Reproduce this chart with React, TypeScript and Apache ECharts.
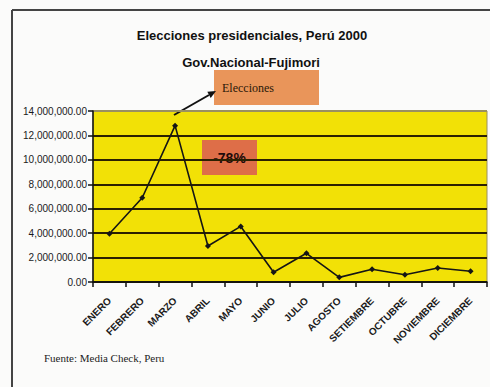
import React, { useEffect, useRef } from "react";
import * as echarts from "echarts";

const months = ["ENERO", "FEBRERO", "MARZO", "ABRIL", "MAYO", "JUNIO", "JULIO", "AGOSTO", "SETIEMBRE", "OCTUBRE", "NOVIEMBRE", "DICIEMBRE"];
const values = [3950000, 6900000, 12800000, 2950000, 4550000, 800000, 2350000, 380000, 1050000, 600000, 1150000, 880000];
const titleText = "Elecciones presidenciales, Perú 2000";
const subtitleText = "Gov.Nacional-Fujimori";
const noteBoxText = "Elecciones";
const changeText = "-78%";
const sourceText = "Fuente: Media Check, Peru";

function fmt(v: number): string {
  if (v === 0) return "0.00";
  return v.toLocaleString("en-US") + ".00";
}

export default function App() {
  const ref = useRef<HTMLDivElement>(null);
  useEffect(() => {
    if (!ref.current) return;
    const chart = echarts.init(ref.current, null, { renderer: "svg" });
    const gridColors = ["#2b2000", "#2b2000", "#2b2000", "#2b2000", "#2b2000", "#2b2000", "#2b2000", "#9a9060"];
    chart.setOption({
      animation: false,
      backgroundColor: "#fbfbfa",
      textStyle: { fontFamily: "Liberation Sans, Arial, sans-serif" },
      grid: {
        left: 93, right: 3, top: 111, bottom: 105, show: true,
        backgroundColor: "#f2e106", borderColor: "#9a9060", borderWidth: 1,
      },
      xAxis: {
        type: "category", data: months, boundaryGap: true,
        axisLine: { lineStyle: { color: "#111", width: 1.5 } },
        axisTick: { show: true, length: 5, lineStyle: { color: "#111", width: 1.5 } },
        axisLabel: { rotate: 45, fontSize: 10, color: "#1a1a1a", margin: 17, fontWeight: "bold" },
        splitLine: { show: false },
      },
      yAxis: {
        type: "value", min: 0, max: 14000000, interval: 2000000,
        axisLine: { show: true, lineStyle: { color: "#111", width: 1.5 } },
        axisTick: { show: true, length: 5, lineStyle: { color: "#111", width: 1.5 } },
        axisLabel: { formatter: (v: number) => fmt(v), fontSize: 10, color: "#1a1a1a", margin: 6 },
        splitLine: { show: true, lineStyle: { color: gridColors, width: 2 } },
      },
      series: [{
        type: "line", data: values,
        symbol: "diamond", symbolSize: 6,
        lineStyle: { color: "#151515", width: 1.6 },
        itemStyle: { color: "#151515" },
      }],
      graphic: [
        { type: "line", shape: { x1: 12, y1: 10, x2: 490, y2: 10 }, style: { stroke: "#444", lineWidth: 2 } },
        { type: "line", shape: { x1: 12, y1: 10, x2: 12, y2: 387 }, style: { stroke: "#444", lineWidth: 2 } },
        { type: "text", x: 252, y: 35, style: { text: titleText, fill: "#111", font: "bold 13px 'Liberation Sans', Arial, sans-serif", textAlign: "center", textVerticalAlign: "middle" } },
        { type: "text", x: 251, y: 62, style: { text: subtitleText, fill: "#111", font: "bold 13px 'Liberation Sans', Arial, sans-serif", textAlign: "center", textVerticalAlign: "middle" } },
        { type: "rect", shape: { x: 214, y: 70, width: 105, height: 35 }, style: { fill: "#e9955a" } },
        { type: "text", x: 222, y: 88, style: { text: noteBoxText, fill: "#2a1808", font: "12px 'Liberation Serif', 'Times New Roman', serif", textVerticalAlign: "middle" } },
        { type: "line", shape: { x1: 174, y1: 115, x2: 209, y2: 95 }, style: { stroke: "#111", lineWidth: 2 } },
        { type: "polygon", shape: { points: [[216, 91], [210.7, 98], [207.3, 91.8]] }, style: { fill: "#111" } },
        { type: "rect", shape: { x: 202, y: 140, width: 55, height: 35 }, style: { fill: "#de6e48" } },
        { type: "text", x: 229.5, y: 158, style: { text: changeText, fill: "#1e0a0a", font: "bold 14px 'Liberation Sans', Arial, sans-serif", textAlign: "center", textVerticalAlign: "middle" } },
        { type: "text", x: 44, y: 358, style: { text: sourceText, fill: "#222", font: "11px 'Liberation Serif', 'Times New Roman', serif", textVerticalAlign: "middle" } },
      ],
    });
    return () => chart.dispose();
  }, []);
  return <div ref={ref} style={{ position: "fixed", left: 0, top: 0, width: 490, height: 387 }} />;
}
